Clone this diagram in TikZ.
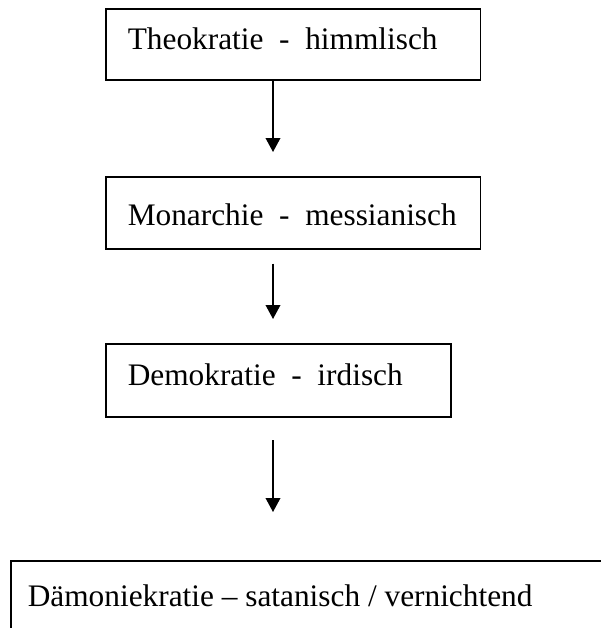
\documentclass[tikz,border=0pt]{standalone}
\usepackage{fontspec}
\setmainfont{Liberation Serif}
\usetikzlibrary{arrows.meta}
\begin{document}
\begin{tikzpicture}[x=0.75pt,y=-0.75pt,
  box/.style={draw, line width=1.2pt, rectangle, anchor=north west, inner ysep=0pt,
    font=\fontsize{23.5pt}{28pt}\selectfont},
  arr/.style={line width=1.1pt, -{Triangle[length=10.5pt,width=11pt]}}]
\useasboundingbox (0,0) rectangle (600,628);
\node[box, inner xsep=16.5pt, minimum height=53.25pt,
  text height=16.5pt, text depth=8.25pt] (b1) at (105,8)
  {\makebox[248pt][l]{Theokratie\ \ -\ \ himmlisch}};
\node[box, inner xsep=16.5pt, minimum height=54pt,
  text height=22.5pt, text depth=3pt] (b2) at (105,176)
  {\makebox[248pt][l]{Monarchie\ \ -\ \ messianisch}};
\node[box, inner xsep=16.5pt, minimum height=54.75pt,
  text height=16.5pt, text depth=8.25pt] (b3) at (105,343)
  {\makebox[226pt][l]{Demokratie\ \ -\ \ irdisch}};
\node[box, inner xsep=12.75pt, minimum height=67.5pt,
  text height=16.5pt, text depth=16pt] (b4) at (10,560)
  {\makebox[430pt][l]{Dämoniekratie – satanisch / vernichtend}};
\coordinate (ax) at (273,0);
\draw[arr] (b1.south -| ax) -- ([yshift=18pt]b2.north -| ax);
\draw[arr] ([yshift=-10.5pt]b2.south -| ax) -- ([yshift=18pt]b3.north -| ax);
\draw[arr] ([yshift=-17pt]b3.south -| ax) -- ([yshift=36pt]b4.north -| ax);
\end{tikzpicture}
\end{document}
